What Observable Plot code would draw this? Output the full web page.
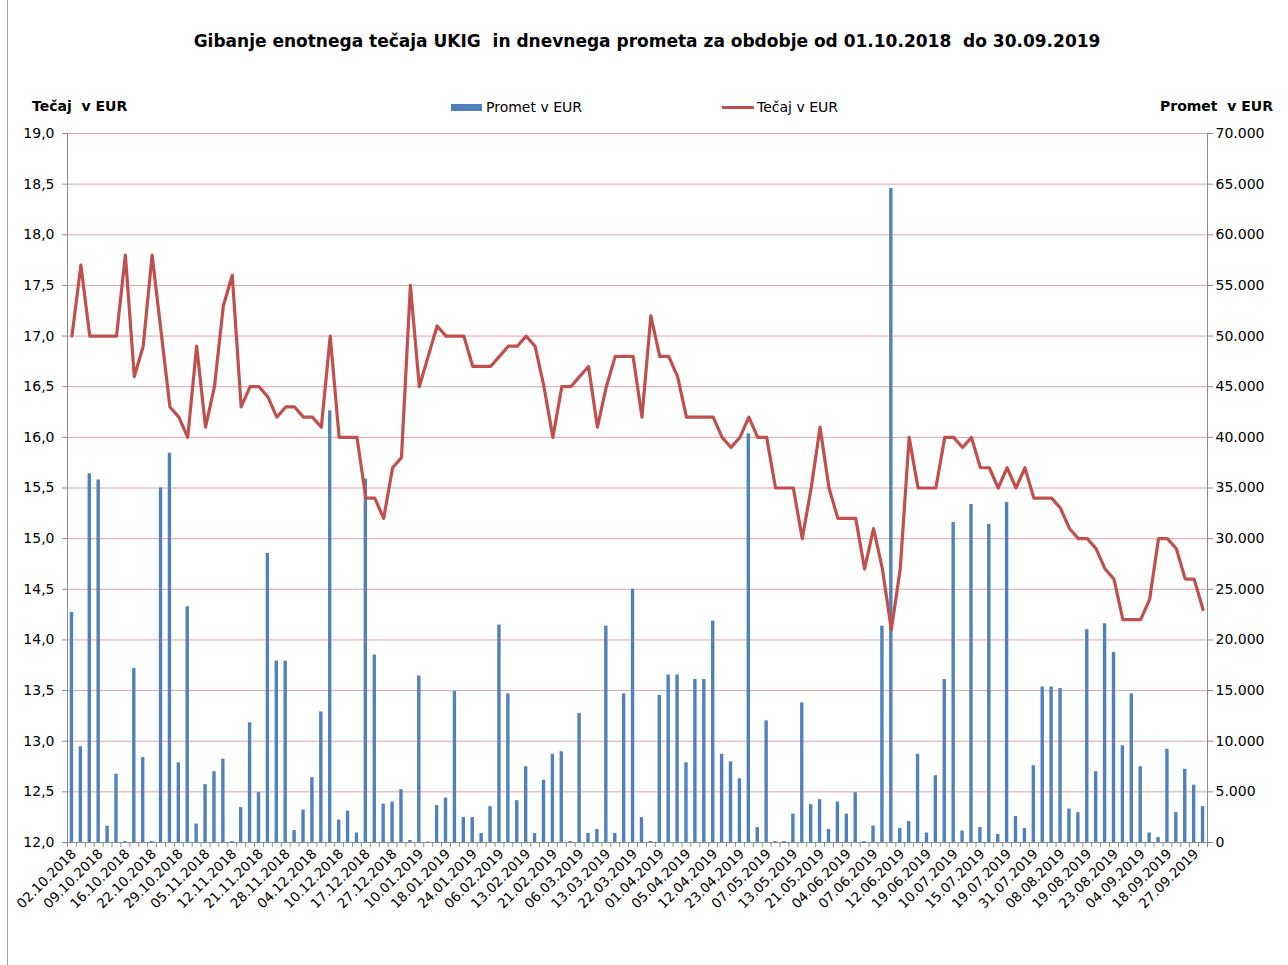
<!DOCTYPE html>
<html>
<head>
<meta charset="utf-8">
<script src="https://cdn.jsdelivr.net/npm/d3@7"></script>
<script src="https://cdn.jsdelivr.net/npm/@observablehq/plot@0.6"></script>
<style>
  html, body { margin: 0; padding: 0; background: #fff; }
  #wrap { position: relative; width: 1288px; height: 965px; overflow: hidden; font-family: "DejaVu Sans", sans-serif; color: #000; }
  #border { position: absolute; left: 7px; top: 0; width: 0; height: 965px; border-left: 1px solid #a6a6a6; }
  #title { position: absolute; left: 0; width: 1294px; top: 31px; text-align: center; font-weight: bold; font-size: 17px; }
  .lbl { position: absolute; font-size: 14px; white-space: nowrap; }
  .bold { font-weight: bold; }
  #chart { position: absolute; left: 0; top: 0; }
</style>
</head>
<body>
<div id="wrap">
  <div id="border"></div>
  <div id="title">Gibanje enotnega tečaja UKIG&nbsp; in dnevnega prometa za obdobje od 01.10.2018&nbsp; do 30.09.2019</div>
  <div class="lbl bold" style="left:32px; top:98px;">Tečaj&nbsp; v EUR</div>
  <div class="lbl bold" style="right:15px; top:98px;">Promet&nbsp; v EUR</div>
  <div style="position:absolute; left:451px; top:104px; width:31px; height:7px; background:#4f81bd;"></div>
  <div class="lbl" style="left:486px; top:99px;">Promet v EUR</div>
  <div style="position:absolute; left:722px; top:106px; width:32px; height:3px; background:#c0504d;"></div>
  <div class="lbl" style="left:757px; top:99px;">Tečaj v EUR</div>
  <div id="chart"></div>
</div>
<script>
// Daily turnover in EUR (bars, right axis)
const promet = [
  22700, 9450, 36400, 35800, 1600, 6740, 100, 17170, 8370, 100,
  35000, 38430, 7870, 23280, 1820, 5710, 6990, 8220, 100, 3440,
  11810, 4920, 28540, 17910, 17910, 1180, 3200, 6400, 12890, 42620,
  2210, 3100, 935, 35880, 18500, 3790, 3990, 5220, 200, 16440,
  50, 3640, 4380, 14910, 2460, 2460, 890, 3540, 21460, 14670,
  4130, 7480, 890, 6150, 8710, 8960, 100, 12750, 890, 1280,
  21360, 890, 14670, 25000, 2460, 100, 14520, 16540, 16540, 7870,
  16090, 16090, 21850, 8710, 7970, 6300, 40350, 1480, 12010, 100,
  100, 2800, 13780, 3740, 4230, 1280, 3990, 2800, 4920, 100,
  1620, 21360, 64570, 1380, 2070, 8710, 935, 6590, 16090, 31590,
  1130, 33370, 1480, 31400, 790, 33560, 2560, 1380, 7580, 15350,
  15350, 15200, 3300, 2950, 21010, 6990, 21600, 18750, 9550, 14670,
  7480, 935, 490, 9200, 2950, 7230, 5660, 3540
];
// Unit price in EUR (line, left axis)
const tecaj = [
  17.0, 17.7, 17.0, 17.0, 17.0, 17.0, 17.8, 16.6, 16.9, 17.8,
  17.05, 16.3, 16.2, 16.0, 16.9, 16.1, 16.5, 17.3, 17.6, 16.3,
  16.5, 16.5, 16.4, 16.2, 16.3, 16.3, 16.2, 16.2, 16.1, 17.0,
  16.0, 16.0, 16.0, 15.4, 15.4, 15.2, 15.7, 15.8, 17.5, 16.5,
  16.8, 17.1, 17.0, 17.0, 17.0, 16.7, 16.7, 16.7, 16.8, 16.9,
  16.9, 17.0, 16.9, 16.5, 16.0, 16.5, 16.5, 16.6, 16.7, 16.1,
  16.5, 16.8, 16.8, 16.8, 16.2, 17.2, 16.8, 16.8, 16.6, 16.2,
  16.2, 16.2, 16.2, 16.0, 15.9, 16.0, 16.2, 16.0, 16.0, 15.5,
  15.5, 15.5, 15.0, 15.5, 16.1, 15.5, 15.2, 15.2, 15.2, 14.7,
  15.1, 14.7, 14.1, 14.7, 16.0, 15.5, 15.5, 15.5, 16.0, 16.0,
  15.9, 16.0, 15.7, 15.7, 15.5, 15.7, 15.5, 15.7, 15.4, 15.4,
  15.4, 15.3, 15.1, 15.0, 15.0, 14.9, 14.7, 14.6, 14.2, 14.2,
  14.2, 14.4, 15.0, 15.0, 14.9, 14.6, 14.6, 14.3
];
// Category labels shown on the x axis (every third trading day)
const xLabels = [
  "02.10.2018", "09.10.2018", "16.10.2018", "22.10.2018", "29.10.2018",
  "05.11.2018", "12.11.2018", "21.11.2018", "28.11.2018", "04.12.2018",
  "10.12.2018", "17.12.2018", "27.12.2018", "10.01.2019", "18.01.2019",
  "24.01.2019", "06.02.2019", "13.02.2019", "21.02.2019", "06.03.2019",
  "13.03.2019", "22.03.2019", "01.04.2019", "05.04.2019", "12.04.2019",
  "23.04.2019", "07.05.2019", "13.05.2019", "21.05.2019", "04.06.2019",
  "07.06.2019", "12.06.2019", "19.06.2019", "10.07.2019", "15.07.2019",
  "19.07.2019", "31.07.2019", "08.08.2019", "19.08.2019", "23.08.2019",
  "04.09.2019", "18.09.2019", "27.09.2019"
];
const leftTicks = [12.0, 12.5, 13.0, 13.5, 14.0, 14.5, 15.0, 15.5, 16.0, 16.5, 17.0, 17.5, 18.0, 18.5, 19.0];
const rightTicks = [0, 5000, 10000, 15000, 20000, 25000, 30000, 35000, 40000, 45000, 50000, 55000, 60000, 65000, 70000];

const data = promet.map((p, i) => ({i, promet: p, tecaj: tecaj[i]}));
const N = data.length;
// left axis (12..19) mapped onto right axis (0..70000)
const toY = t => (t - 12) * 10000;
const fmtThousands = d => d === 0 ? "0" : d3.format(",")(d).replace(/,/g, ".");
const axisGray = "#8c8c8c";

const chart = Plot.plot({
  width: 1288,
  height: 965,
  marginTop: 133,
  marginBottom: 123,
  marginLeft: 67,
  marginRight: 81,
  x: {type: "linear", domain: [-0.5, N - 0.5], axis: null},
  y: {domain: [0, 70000], axis: null},
  style: {fontFamily: "DejaVu Sans, sans-serif", fontSize: "14px", color: "#000", background: "transparent"},
  marks: [
    Plot.gridY(rightTicks, {stroke: "#d9a3a9", strokeOpacity: 1, strokeWidth: 1}),
    Plot.rectY(data, {x1: d => d.i - 0.19, x2: d => d.i + 0.19, y1: 0, y2: "promet", fill: "#4f81bd"}),
    Plot.lineY(data, {x: "i", y: d => toY(d.tecaj), stroke: "#c0504d", strokeWidth: 3.2, strokeLinejoin: "round", strokeLinecap: "round"}),
    Plot.ruleX([-0.5, N - 0.5], {stroke: axisGray}),
    Plot.ruleY([0], {stroke: axisGray}),
    Plot.axisY({anchor: "left", label: null, ticks: leftTicks.map(toY), tickFormat: d => (12 + d / 10000).toFixed(1).replace(".", ","), tickSize: 5, tickPadding: 8, stroke: axisGray, fill: "#000", fontSize: 14}),
    Plot.axisY({anchor: "right", label: null, ticks: rightTicks, tickFormat: fmtThousands, tickSize: 5, tickPadding: 3, stroke: axisGray, fill: "#000", fontSize: 14}),
    Plot.axisX({anchor: "bottom", label: null, ticks: d3.range(-0.5, N, 1), tickFormat: () => "", tickSize: 5, stroke: axisGray}),
    Plot.axisX({anchor: "bottom", label: null, ticks: d3.range(0, N, 3), tickFormat: i => xLabels[Math.round(i / 3)], tickSize: 0, tickPadding: 9, tickRotate: -45, dx: 2, fill: "#000", fontSize: 13.5})
  ]
});
document.getElementById("chart").appendChild(chart);
</script>
</body>
</html>
